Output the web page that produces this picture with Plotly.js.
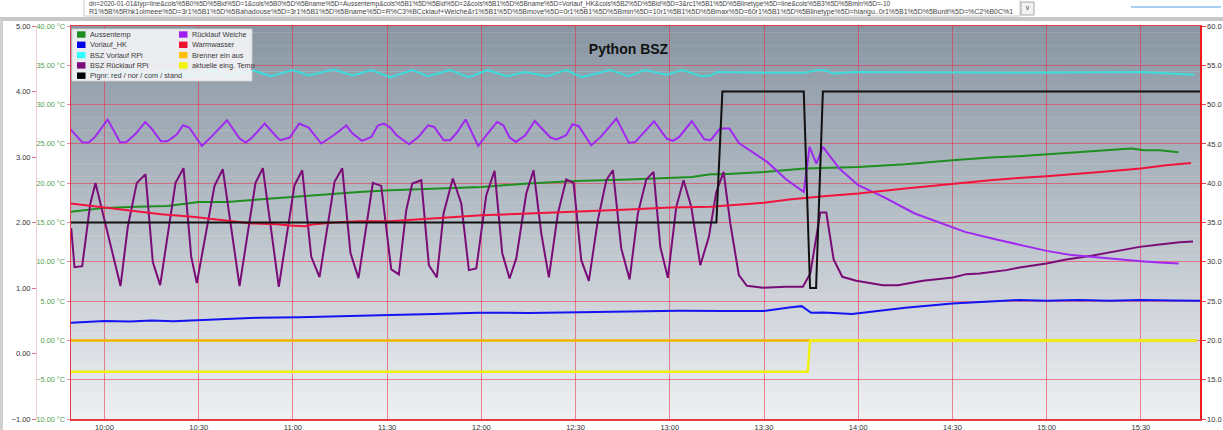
<!DOCTYPE html>
<html><head><meta charset="utf-8">
<script src="https://cdn.plot.ly/plotly-3.0.1.min.js"></script>
<style>html,body{margin:0;padding:0;background:#fff;overflow:hidden}#chart{width:1223px;height:430px}</style>
</head><body><div id="chart"></div>
<script>
// ---------------- DATA (time "HH:MM[:SS]", value) ----------------
const DAY = "2020-01-01 ";

// °C axis (left, green)
const aussentemp = [["09:49",16.35],["10:00",16.86],["10:10",16.99],["10:20",17.11],["10:30",17.62],["10:39",17.62],["10:49",17.93],["11:00",18.26],["11:13",18.69],["11:21",18.89],["11:31",19.11],["11:44",19.33],["12:00",19.53],["12:15",19.96],["12:30",20.29],["12:47",20.47],["13:00",20.72],["13:07",20.80],["13:13",21.14],["13:17",21.14],["13:30",21.44],["13:43",21.87],["14:00",22.07],["14:15",22.42],["14:30",22.92],["14:42",23.27],["14:51",23.43],["15:00",23.69],["15:10",23.98],["15:20",24.28],["15:27",24.41],["15:31",24.20],["15:36",24.20],["15:42",23.94]];
const brenner = [["09:49",0],["15:47:50",0]];
const aktuelleTemp = [["09:49",-4],["13:43:55",-4],["13:44:40",0],["15:47:50",0]];

// right axis
const vorlaufHK = [["09:49",22.24],["10:00",22.46],["10:08",22.40],["10:15",22.52],["10:22",22.45],["10:30",22.59],["10:40",22.70],["10:49",22.88],["11:02",22.93],["11:15",23.10],["11:31",23.22],["11:45",23.35],["11:59",23.51],["12:15",23.50],["12:31",23.60],["12:45",23.65],["13:03",23.77],["13:17",23.73],["13:30",23.73],["13:38",24.20],["13:42",24.36],["13:45",23.51],["13:49",23.56],["13:58",23.35],["14:06",23.73],["14:15",24.15],["14:30",24.71],["14:42",24.91],["14:51",25.13],["15:00",25.04],["15:10",25.15],["15:20",25.05],["15:30",25.13],["15:40",25.08],["15:49",25.04]];
const bszVorlauf = [["09:49",53.5],["09:56",54.4],["10:02",53.6],["10:09",54.4],["10:15",53.6],["10:21",54.4],["10:28",53.6],["10:34",54.4],["10:40",53.6],["10:47",54.4],["10:53",53.6],["11:00",54.4],["11:05",53.7],["11:13",54.45],["11:19",53.7],["11:25",54.4],["11:31",53.45],["11:38",54.4],["11:43",53.6],["11:50",54.4],["11:56",53.5],["12:02",54.4],["12:08",53.6],["12:14",54.15],["12:21",53.6],["12:27",54.4],["12:32",53.5],["12:41",54.4],["12:47",53.6],["12:52",54.4],["12:59",53.8],["13:04",54.4],["13:10",53.6],["13:13",53.7],["13:15",54.15],["13:29",54.05],["13:43",54.05],["13:47",54.4],["13:50",54.3],["13:52",53.95],["13:59",54.15],["14:29",54.05],["14:51",54.05],["15:17",54.1],["15:30",54.15],["15:47",53.8]];
const bszRuecklauf = [["09:49:24",34.28],["09:50:27",29.32],["09:52:54",29.45],["09:55:27",37.33],["09:57:08",40.04],["10:05:06",26.91],["10:07:25",34.44],["10:10:17",40.04],["10:13:04",41.14],["10:15:23",29.96],["10:17:44",27.03],["10:22:37",40.04],["10:25:10",41.91],["10:27:37",30.63],["10:29:24",27.29],["10:35:02",39.66],["10:37:40",41.78],["10:43:00",26.91],["10:48:05",40.04],["10:50:25",41.91],["10:55:30",26.82],["11:00:30",39.75],["11:02:58",41.65],["11:05:50",30.63],["11:08:28",28.05],["11:13:15",40.17],["11:15:42",41.91],["11:18:20",31.10],["11:20:53",27.92],["11:25:27",40.04],["11:28:07",39.66],["11:31:18",29.03],["11:33:44",28.39],["11:36:05",36.57],["11:38:00",39.96],["11:40:52",40.38],["11:43:17",29.57],["11:45:50",28.01],["11:47:58",36.15],["11:50:55",40.60],["11:53:36",37.42],["11:56:01",28.94],["11:58:23",29.15],["12:01:34",38.47],["12:04:12",41.56],["12:06:40",31.06],["12:08:59",27.88],["12:11:07",30.43],["12:14:18",38.69],["12:16:37",41.65],["12:19:05",33.61],["12:21:30",28.01],["12:24:22",36.15],["12:27:02",40.47],["12:29:22",40.04],["12:31:49",30.21],["12:34:14",27.58],["12:37:06",35.30],["12:39:47",40.38],["12:41:53",41.65],["12:44:33",31.70],["12:47:12",27.76],["12:49:50",36.15],["12:52:31",40.47],["12:54:50",41.44],["12:56:59",31.90],["12:59:23",27.96],["13:02:04",36.99],["13:04:23",40.38],["13:06:51",36.99],["13:09:43",29.57],["13:12:27",33.17],["13:14:49",38.89],["13:17:08",41.44],["13:19:16",34.88],["13:22:00",28.30],["13:24:33",26.94],["13:29:39",26.69],["13:37:06",26.82],["13:42:23",26.82],["13:44:45",28.52],["13:47:56",36.28],["13:49:50",36.28],["13:52:10",30.30],["13:54:56",28.09],["13:59:24",27.58],["14:07:52",27.03],["14:12:38",27.03],["14:20:36",27.58],["14:30:10",28.01],["14:34:24",28.43],["14:38:40",28.52],["14:47:10",28.94],["14:51:24",29.28],["14:59:54",29.79],["15:06:16",30.30],["15:14:45",30.81],["15:23:15",31.48],["15:29:37",31.90],["15:36:00",32.21],["15:42:22",32.50],["15:46:36",32.59]];
const ruecklaufWeiche = [["09:49",46.95],["09:53",45.17],["09:55",45.17],["09:57",45.89],["10:01",48.10],["10:05",45.17],["10:07",45.25],["10:10",46.32],["10:13",47.79],["10:15",46.95],["10:18",45.34],["10:20",45.34],["10:23",46.19],["10:25",47.37],["10:27",47.08],["10:31",44.74],["10:34",45.89],["10:39",48.01],["10:43",45.68],["10:45",45.17],["10:47",45.81],["10:51",47.59],["10:55",45.81],["10:56",45.47],["10:59",45.81],["11:02",47.59],["11:05",47.08],["11:09",45.05],["11:13",46.10],["11:17",47.34],["11:19",46.32],["11:22",45.38],["11:25",45.89],["11:27",47.34],["11:29",47.59],["11:31",47.08],["11:33",46.10],["11:37",44.96],["11:40",45.89],["11:43",47.37],["11:45",47.16],["11:48",45.47],["11:50",45.47],["11:52",46.32],["11:55",48.10],["11:59",44.74],["12:02",46.32],["12:05",47.79],["12:07",47.37],["12:09",45.81],["12:11",45.25],["12:14",46.10],["12:17",47.92],["12:22",45.81],["12:24",45.56],["12:27",46.10],["12:29",47.50],["12:31",47.25],["12:35",44.83],["12:38",45.89],["12:43",48.23],["12:47",45.12],["12:49",45.25],["12:55",47.88],["12:59",45.68],["13:01",45.38],["13:03",45.89],["13:07",47.88],["13:11",45.59],["13:13",45.47],["13:16",46.95],["13:19",46.95],["13:22",45.12],["13:31",42.71],["13:37",40.51],["13:42:40",38.89],["13:44:30",44.61],["13:46:40",42.50],["13:48:45",44.61],["13:54",41.87],["14:00",39.75],["14:08",38.26],["14:18",36.15],["14:27",34.88],["14:34",33.81],["14:44",32.84],["14:51",32.18],["15:00",31.39],["15:08",30.85],["15:19",30.42],["15:30",30.08],["15:36",29.92],["15:42",29.79]];
const warmwasser = [["09:49",37.42],["10:00",36.91],["10:10",36.48],["10:18",36.06],["10:28",35.72],["10:39",35.21],["10:47",34.88],["10:55",34.79],["10:59",34.62],["11:04",34.53],["11:06",34.75],["11:13",35.00],["11:21",35.17],["11:31",35.17],["11:44",35.51],["11:54",35.72],["12:00",35.93],["12:15",36.15],["12:30",36.35],["12:47",36.66],["13:00",36.91],["13:13",36.99],["13:30",37.50],["13:38",37.93],["13:49",38.35],["14:00",38.69],["14:15",39.33],["14:30",39.96],["14:42",40.38],["14:51",40.67],["15:00",40.89],["15:17",41.44],["15:30",41.87],["15:38",42.29],["15:46",42.58]];

// outer left axis (state)
const pignr = [["09:49",2],["13:14:50",2],["13:16:45",4],["13:42:40",4],["13:44:40",1],["13:46:35",1],["13:48:45",4],["15:49",4]];

// names / colours
const seriesNames = ["Aussentemp","Vorlauf_HK","BSZ Vorlauf RPi","BSZ Rücklauf RPi","Pignr: red / nor / com / stand","Rücklauf Weiche","Warmwasser","Brenner ein aus","aktuelle eing. Temp"];
const seriesData = [aussentemp, vorlaufHK, bszVorlauf, bszRuecklauf, pignr, ruecklaufWeiche, warmwasser, brenner, aktuelleTemp];
const seriesAxis = ["y","y2","y2","y2","y3","y2","y2","y","y"];
const lineColors = ["#1f8f1f","#1414f0","#3cdcdc","#7a0c78","#111111","#a028f0","#f0143c","#f0b400","#f0f014"];
const swatchColors = ["#1e8c1e","#0000e6","#33ffff","#7a0a7a","#000000","#a020f0","#f01030","#ffc000","#f4f400"];
const drawOrder = [0,1,2,3,5,6,7,8,4];

const xTickLabels = ["10:00","10:30","11:00","11:30","12:00","12:30","13:00","13:30","14:00","14:30","15:00","15:30"];

// ---------------- LAYOUT HELPERS ----------------
const W=1223, H=430, ML=36, MR=23, MT=26, MB=11;
const PW=W-ML-MR, PH=H-MT-MB;
const px = x => (x-ML)/PW;
const py = y => (H-MB-y)/PH;
const FONT = "Liberation Sans, Arial, sans-serif";
const xStart = px(71);

const traces = drawOrder.map(i => ({
  type:"scatter", mode:"lines", name:seriesNames[i],
  x: seriesData[i].map(p => DAY+p[0]),
  y: seriesData[i].map(p => p[1]),
  yaxis: seriesAxis[i],
  line:{color:lineColors[i], width:(i===7||i===8)?2.5:2},
  hoverinfo:"skip", showlegend:false
}));

const shapes = [];
// plot background gradient
const NB=60, gradTop=[138,151,164], gradBot=[238,240,242];
for(let k=0;k<NB;k++){
  const t=(k+0.5)/NB, tt=Math.pow(t,1.1);
  const c=gradTop.map((v,j)=>Math.round(v+(gradBot[j]-v)*tt));
  shapes.push({type:"rect",layer:"below",xref:"paper",yref:"paper",x0:xStart,x1:1,y0:1-(k+1)/NB,y1:1-k/NB+0.001,
    line:{width:0},fillcolor:`rgb(${c[0]},${c[1]},${c[2]})`});
}
// page frame bits
shapes.push({type:"rect",xref:"paper",yref:"paper",x0:px(0),x1:px(W),y0:py(21),y1:py(17),line:{width:0},fillcolor:"#c6c6c6"});
shapes.push({type:"rect",xref:"paper",yref:"paper",x0:px(0),x1:px(3),y0:py(H),y1:py(19),line:{width:0},fillcolor:"#d0d0d0"});
shapes.push({type:"rect",xref:"paper",yref:"paper",x0:px(84),x1:px(1020),y0:py(16),y1:py(-2),line:{width:1,color:"#c8c8c8"},fillcolor:"#ffffff"});
shapes.push({type:"rect",xref:"paper",yref:"paper",x0:px(1021),x1:px(1034),y0:py(15),y1:py(2),line:{width:1,color:"#a8a8a8"},fillcolor:"#f2f2f2"});
shapes.push({type:"rect",xref:"paper",yref:"paper",x0:px(1131),x1:px(1221),y0:py(8),y1:py(6),line:{width:0},fillcolor:"#a9d0f2"});
// legend box
shapes.push({type:"rect",xref:"paper",yref:"paper",x0:px(72),x1:px(252),y0:py(81),y1:py(29),line:{width:1,color:"rgba(210,210,210,0.8)"},fillcolor:"rgba(248,248,250,0.88)"});

const annotations = [];
const legendCols = [[0,1,2,3,4],[5,6,7,8]];
const colX = [77,179];
legendCols.forEach((col,ci)=>col.forEach((idx,ri)=>{
  const yc = 34.5 + ri*10.3;
  shapes.push({type:"rect",xref:"paper",yref:"paper",x0:px(colX[ci]),x1:px(colX[ci]+8.5),y0:py(yc+3.2),y1:py(yc-3.2),line:{width:0},fillcolor:swatchColors[idx]});
  annotations.push({xref:"paper",yref:"paper",x:px(colX[ci]+11),y:py(yc),xanchor:"left",yanchor:"middle",showarrow:false,
    text:seriesNames[idx],font:{family:FONT,size:7.3,color:"#3a3a3a"}});
}));
// url text in the page header
annotations.push({xref:"paper",yref:"paper",x:px(87),y:py(4.2),xanchor:"left",yanchor:"middle",showarrow:false,
  text:"dn=2020-01-01&typ=line&cols%5B0%5D%5Bid%5D=1&cols%5B0%5D%5Bname%5D=Aussentemp&cols%5B1%5D%5Bid%5D=2&cols%5B1%5D%5Bname%5D=Vorlauf_HK&cols%5B2%5D%5Bid%5D=3&rc1%5B1%5D%5Blinetype%5D=line&cols%5B3%5D%5Bmin%5D=-10",
  font:{family:FONT,size:6.5,color:"#444"}});
annotations.push({xref:"paper",yref:"paper",x:px(87),y:py(12),xanchor:"left",yanchor:"middle",showarrow:false,
  text:"R1%5B%5Rhk1olmeee%5D=3r1%5B1%5D%5Bahadouse%5D=3r1%5B1%5D%5Bname%5D=R%C3%BCcklauf+Weiche&r1%5B1%5D%5Bmove%5D=0r1%5B1%5D%5Bmin%5D=10r1%5B1%5D%5Bmax%5D=60r1%5B1%5D%5Blinetype%5D=hiangu..0r1%5B1%5D%5Bunit%5D=%C2%B0C%1",
  font:{family:FONT,size:7,color:"#444"}});
annotations.push({xref:"paper",yref:"paper",x:px(1027.5),y:py(8.5),xanchor:"center",yanchor:"middle",showarrow:false,
  text:"∨",font:{family:"DejaVu Sans",size:7,color:"#555"}});

const gridCol = "rgba(236,40,72,0.55)";
const borderCol = "#e63a44";

const layout = {
  width:W, height:H,
  margin:{l:ML,r:MR,t:MT,b:MB,pad:0},
  paper_bgcolor:"#ffffff", plot_bgcolor:"rgba(0,0,0,0)",
  showlegend:false,
  font:{family:FONT,size:7.5,color:"#333"},
  title:{text:"<b>Python BSZ</b>", font:{family:FONT,size:14,color:"#111"},
    xref:"paper", yref:"paper", x:px(628.5), y:py(49), xanchor:"center", yanchor:"middle"},
  xaxis:{type:"date", domain:[xStart,1], range:[DAY+"09:49:20", DAY+"15:48:50"],
    tickmode:"array", tickvals:xTickLabels.map(t=>DAY+t), ticktext:xTickLabels,
    showgrid:true, gridcolor:gridCol, gridwidth:1, zeroline:false,
    showline:true, linecolor:borderCol, linewidth:1.5, mirror:true,
    ticks:"", tickfont:{family:FONT,size:7.5,color:"#333"}, fixedrange:true},
  yaxis:{range:[-10,40], dtick:5, tick0:0, tickformat:".2f", ticksuffix:" °C",
    showgrid:true, gridcolor:gridCol, gridwidth:1, zeroline:false,
    showline:true, linecolor:borderCol, linewidth:1.5,
    ticks:"outside", ticklen:3, tickcolor:"#e88a98",
    tickfont:{family:FONT,size:7.3,color:"#4f9f4f"}, fixedrange:true},
  yaxis2:{overlaying:"y", side:"right", range:[10,60], dtick:5, tick0:10, tickformat:".1f",
    showgrid:false, zeroline:false, showline:true, linecolor:"#f01c1c", linewidth:1.5,
    ticks:"outside", ticklen:4, tickcolor:"#e84050",
    tickfont:{family:FONT,size:7.5,color:"#333"}, fixedrange:true},
  yaxis3:{overlaying:"y", anchor:"free", position:0, side:"left", range:[-1,5], dtick:1, tick0:0, tickformat:".2f",
    showgrid:false, zeroline:false, showline:true, linecolor:"#f3cad2", linewidth:1,
    ticks:"outside", ticklen:4, tickcolor:"#e07088",
    tickfont:{family:FONT,size:7.5,color:"#333"}, fixedrange:true},
  shapes:shapes, annotations:annotations
};

Plotly.newPlot("chart", traces, layout, {displayModeBar:false, staticPlot:true});
</script></body></html>
